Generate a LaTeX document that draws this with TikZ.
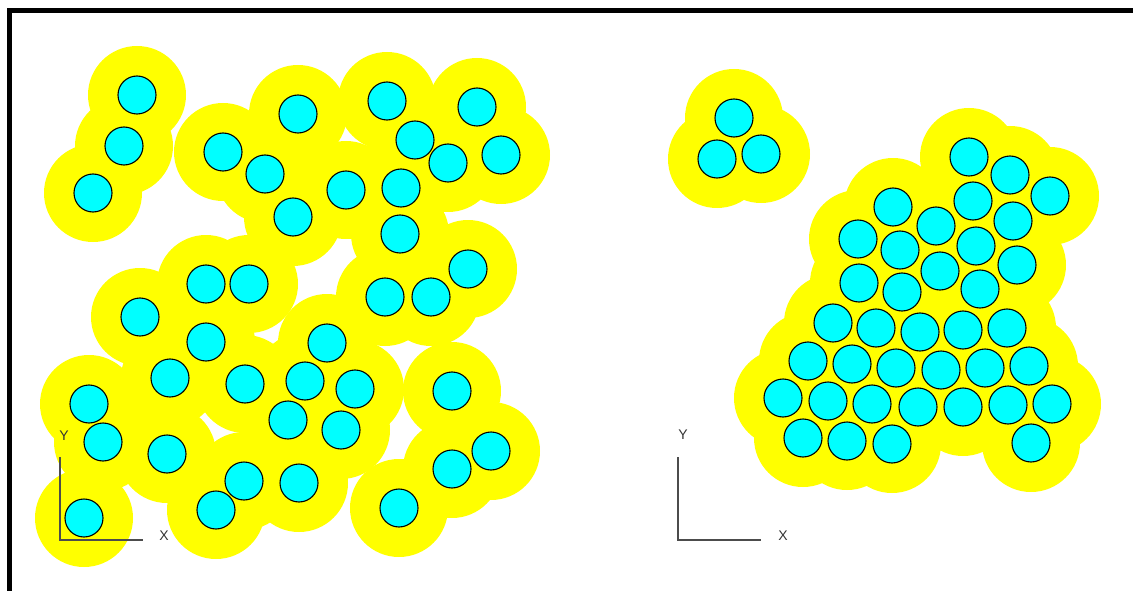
\documentclass[tikz,border=0pt]{standalone}
\usepackage{fontspec}
\setmainfont{Liberation Sans}
\definecolor{aquafill}{RGB}{0,255,255}
\definecolor{halofill}{RGB}{255,255,0}
\begin{document}
\begin{tikzpicture}[x=1pt,y=-1pt,
  halo/.style={fill=halofill},
  grain/.style={fill=aquafill,draw=black,line width=1.1pt},
  axis/.style={draw=black!70,line width=1.3pt},
  lbl/.style={font=\fontsize{14}{14}\selectfont,text=black!80,inner sep=0pt}]
\useasboundingbox (0,0) rectangle (1133,591);
\def\leftpts{(137,95),(124,146),(93,193),(223,152),(265,174),(298,114),(293,217),(346,190),(387,101),(415,140),(448,163),(477,107),(501,155),(401,188),(400,234),(468,269),(206,284),(249,284),(385,297),(431,297),(140,317),(206,342),(327,343),(170,378),(245,384),(305,381),(355,389),(452,391),(89,404),(288,420),(341,430),(103,442),(167,454),(491,451),(452,469),(244,481),(299,483),(216,510),(399,508),(84,518)}
\def\rightpts{(734,118),(717,159),(761,154),(969,157),(1010,175),(1050,196),(973,201),(1013,221),(893,207),(936,226),(858,239),(900,250),(976,246),(1017,265),(940,271),(859,283),(902,292),(980,289),(833,323),(876,328),(920,332),(963,330),(1007,328),(808,361),(852,364),(896,368),(941,370),(985,368),(1029,366),(783,398),(828,401),(872,404),(918,407),(963,407),(1008,405),(1052,404),(803,438),(847,441),(892,444),(1031,443)}
\foreach \p in \leftpts {\fill[halo] \p circle (49);}
\foreach \p in \rightpts {\fill[halo] \p circle (49);}
\foreach \p in \leftpts {\draw[grain] \p circle (19);}
\foreach \p in \rightpts {\draw[grain] \p circle (19);}
% axes left
\coordinate (lo) at (60,540);
\coordinate (ly) at (60,457);
\coordinate (lx) at (143,540);
\draw[axis] (ly) -- (lo) -- (lx);
\node[lbl] (lY) at (64,436) {Y};
\node[lbl] (lX) at (164,536) {X};
% axes right
\coordinate (ro) at (678,540);
\coordinate (ry) at (678,457);
\coordinate (rx) at (761,540);
\draw[axis] (ry) -- (ro) -- (rx);
\node[lbl] (rY) at (683,435) {Y};
\node[lbl] (rX) at (783,536) {X};
% frame
\begin{scope}
\clip (0,0) rectangle (1133,591);
\draw[line width=5pt,black] (9,11) rectangle (1145,620);
\end{scope}
\end{tikzpicture}
\end{document}
